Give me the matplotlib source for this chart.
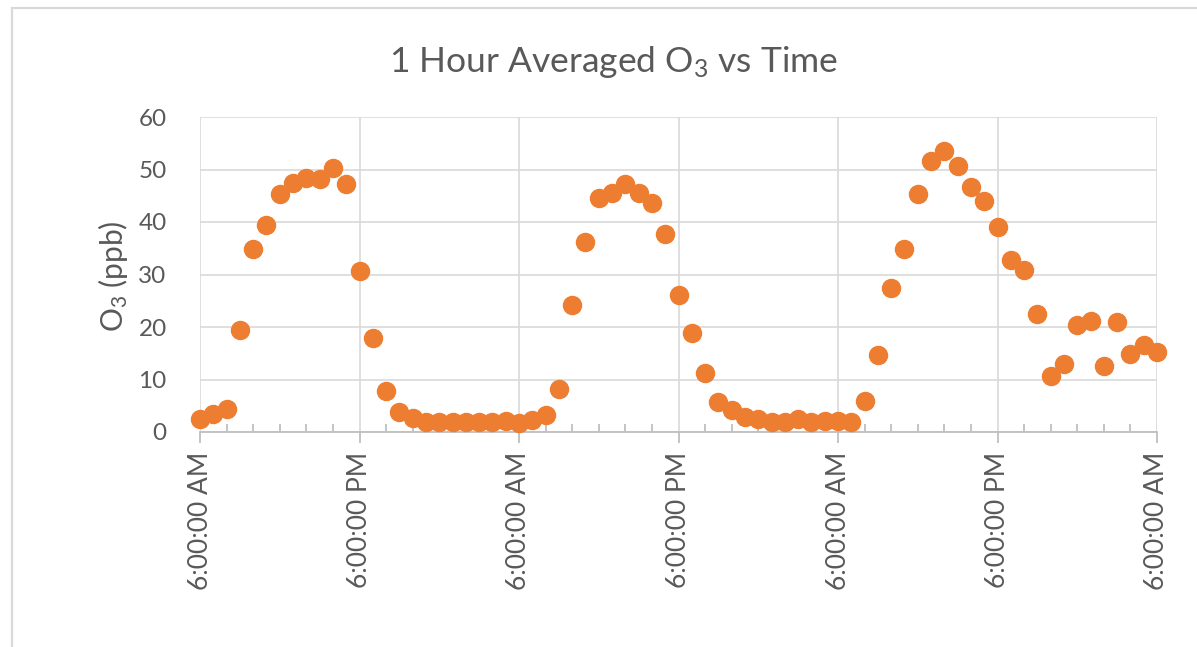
import matplotlib
matplotlib.use("Agg")
import matplotlib.pyplot as plt
from matplotlib.patches import Rectangle
from matplotlib.ticker import MultipleLocator, FixedLocator

# ---- data ----
hours = list(range(73))  # hours since 6:00 AM of day 1
o3_ppb = [
    2.4, 3.5, 4.3, 19.4, 34.9, 39.4, 45.4, 47.5, 48.4, 48.2, 50.3, 47.3,
    30.6, 17.9, 7.8, 3.9, 2.7, 2.0, 2.0, 2.0, 2.0, 2.0, 2.0, 2.1,
    1.8, 2.2, 3.2, 8.2, 24.2, 36.1, 44.6, 45.6, 47.2, 45.6, 43.7, 37.7,
    26.1, 18.8, 11.2, 5.7, 4.1, 2.8, 2.5, 1.9, 2.0, 2.5, 2.0, 2.1,
    2.1, 2.0, 6.0, 14.6, 27.5, 34.8, 45.4, 51.6, 53.5, 50.6, 46.7, 44.0,
    39.1, 32.8, 30.9, 22.5, 10.6, 13.0, 20.3, 21.2, 12.5, 21.0, 14.9, 16.6,
    15.2,
]
major_tick_hours = [0, 12, 24, 36, 48, 60, 72]
major_tick_labels = ["6:00:00 AM", "6:00:00 PM", "6:00:00 AM", "6:00:00 PM",
                     "6:00:00 AM", "6:00:00 PM", "6:00:00 AM"]
y_ticks = [0, 10, 20, 30, 40, 50, 60]

# ---- style ----
plt.rcParams['font.family'] = ['Lato', 'DejaVu Sans']
plt.rcParams['mathtext.fontset'] = 'custom'
plt.rcParams['mathtext.rm'] = 'Lato'
plt.rcParams['mathtext.it'] = 'Lato:italic'
plt.rcParams['mathtext.bf'] = 'Lato:bold'

W, H = 1197, 647
DPI = 100
fig = plt.figure(figsize=(W / DPI, H / DPI), dpi=DPI)
fig.patch.set_facecolor('white')

text_color = '#595959'
grid_color = '#D9D9D9'
axis_color = '#BFBFBF'
orange = '#ED7D31'

# chart area border
fig.patches.append(Rectangle((12 / W, -0.05), 1.2, (H - 8) / H + 0.05,
                             transform=fig.transFigure, fill=False,
                             edgecolor=grid_color, linewidth=1.6, zorder=0))

left, right, top, bottom = 200, 1157, 117, 432
ax = fig.add_axes([left / W, (H - bottom) / H, (right - left) / W, (bottom - top) / H])

ax.plot(hours, o3_ppb, linestyle='none', marker='o', markersize=13,
        color=orange, markeredgecolor=orange, clip_on=False, zorder=3)

ax.set_xlim(0, 72)
ax.set_ylim(0, 60)

ax.xaxis.set_major_locator(FixedLocator(major_tick_hours))
ax.set_xticklabels(major_tick_labels, rotation=90, fontsize=19, color=text_color)
ax.xaxis.set_minor_locator(MultipleLocator(2))
ax.set_yticks(y_ticks)
ax.set_yticklabels([str(v) for v in y_ticks], fontsize=17.5, color=text_color)

ax.grid(True, which='major', color=grid_color, linewidth=1.2, zorder=0)
ax.set_axisbelow(True)

for s in ['top', 'right', 'left']:
    ax.spines[s].set_visible(False)
ax.spines['bottom'].set_color(axis_color)
ax.spines['bottom'].set_linewidth(1.3)

ax.tick_params(axis='x', which='major', direction='out', length=8, width=1.3,
               color=axis_color, pad=6)
ax.tick_params(axis='x', which='minor', direction='in', length=6, width=1.3,
               color=axis_color)
ax.tick_params(axis='y', which='both', length=0, pad=24)

fig.text(613 / W, 1 - 62 / H, r"1 Hour Averaged O$_\mathrm{3}$ vs Time",
         ha='center', va='center', fontsize=25.5, color=text_color)
fig.text(113 / W, 1 - 276 / H, r"O$_\mathrm{3}$ (ppb)", rotation=90,
         ha='center', va='center', fontsize=21.5, color=text_color)

fig.savefig('out.png', dpi=DPI, facecolor='white')
